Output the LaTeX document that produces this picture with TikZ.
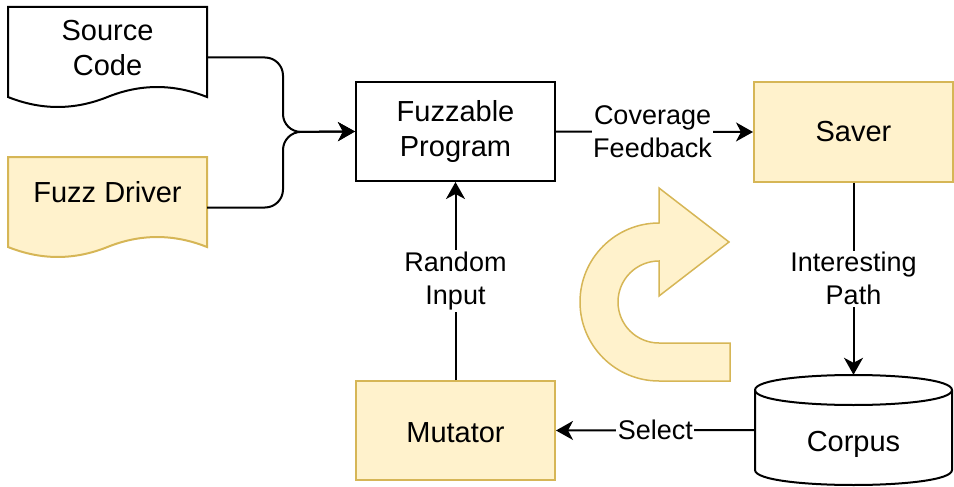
\documentclass[tikz,border=0pt]{standalone}
\usepackage{fontspec}
\setmainfont{Liberation Sans}
\usetikzlibrary{arrows.meta}
\definecolor{yfill}{HTML}{FFF2CC}
\definecolor{ydraw}{HTML}{D6B656}
\newcommand\dfont{\fontsize{29}{35}\selectfont}
\newcommand\lfont{\fontsize{27}{33}\selectfont}
\tikzset{
  box/.style={draw, line width=2pt, minimum width=199pt, minimum height=99pt, inner sep=0pt, align=center, font=\dfont},
  ybox/.style={box, fill=yfill, draw=ydraw},
  ghost/.style={minimum width=199pt, minimum height=101pt, inner sep=0pt},
  txt/.style={align=center, font=\dfont, inner sep=0pt},
  lbl/.style={fill=white, inner sep=1.5pt, align=center, font=\lfont},
  conn/.style={line width=2pt, -{Stealth[length=17pt,width=19pt,inset=5pt]}},
}
\begin{document}
\begin{tikzpicture}[x=1pt,y=-1pt]
\useasboundingbox (0,0) rectangle (954,487);
% document shapes
\node[ghost] (src) at (107.5,57.5) {};
\draw[line width=2pt, fill=white] (8,7) -- (207,7) -- (207,97)
  .. controls (173.7,83.7) and (140.5,83.7) .. (107.5,97)
  .. controls (74.3,110.3) and (41.2,110.3) .. (8,97) -- cycle;
\node[txt] (srct) at (107.5,48) {Source\\Code};
\node[ghost] (drv) at (107.5,207.5) {};
\draw[line width=2pt, fill=yfill, draw=ydraw] (8,157) -- (207,157) -- (207,247)
  .. controls (173.7,233.7) and (140.5,233.7) .. (107.5,247)
  .. controls (74.3,260.3) and (41.2,260.3) .. (8,247) -- cycle;
\node[txt] (drvt) at (107.5,192) {Fuzz Driver};
% boxes
\node[box] (fp) at (455.5,131.5) {Fuzzable\\Program};
\node[ybox] (saver) at (853.5,132) {Saver};
\node[ybox] (mut) at (455.5,430.5) {};
\node[txt] (mutt) at (455.5,433) {Mutator};
% cylinder
\node[minimum width=197pt, minimum height=110pt, inner sep=0pt] (corpus) at (853.5,430) {};
\draw[line width=2pt, fill=white] (755,390) .. controls (755,370) and (952,370) .. (952,390)
  -- (952,470) .. controls (952,490) and (755,490) .. (755,470) -- cycle;
\draw[line width=2pt] (755,390) .. controls (755,410) and (952,410) .. (952,390);
\node[txt] (corpust) at (853.5,444) {Corpus};
% curved arrow
\draw[line width=1.5pt, fill=yfill, draw=ydraw, line join=miter]
  (659,223) arc[start angle=270, end angle=90, radius=79] -- (730,381) -- (730,343) -- (659,343)
  arc[start angle=90, end angle=270, radius=41] -- (659,296) -- (729,242) -- (659,188) -- cycle;
% connectors
\coordinate (j) at (283,132);
\draw[conn, rounded corners=18pt] (src.east) -| (j) -- (fp.west);
\draw[conn, rounded corners=18pt] (drv.east) -| (j) -- (fp.west);
\draw[conn] (fp.east) -- node[lbl, pos=0.49] (cov) {Coverage\\Feedback} (saver.west);
\draw[conn] (saver.south) -- node[lbl, pos=0.5] (ip) {Interesting\\Path} (corpus.north);
\draw[conn] (corpus.west) -- node[lbl, pos=0.5] (sel) {Select} (mut.east);
\draw[conn] (mut.north) -- node[lbl, pos=0.5] (ri) {Random\\Input} (fp.south);
\end{tikzpicture}
\end{document}
